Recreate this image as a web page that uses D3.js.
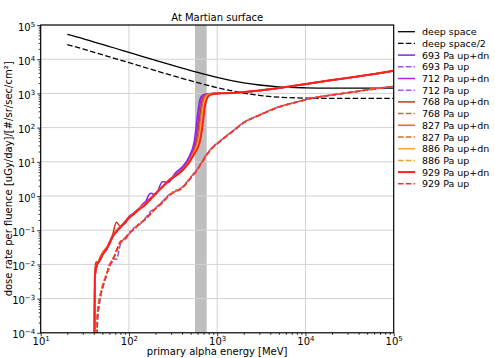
<!DOCTYPE html>
<html>
<head>
<meta charset="utf-8">
<script src="https://cdn.jsdelivr.net/npm/d3@7"></script>
<style>
  body { margin: 0; background: #fff; }
  text { font-family: "DejaVu Sans", sans-serif; }
</style>
</head>
<body>
<div id="chart"></div>
<script>
// data
let energy = [40.5, 41, 42, 43, 44, 46, 48, 51, 55, 60, 65, 72, 80, 90, 100, 115, 130, 150, 175, 200,
  240, 280, 330, 400, 480, 550, 600, 640, 680, 720, 760, 800, 850, 900, 1000, 1200, 1500, 2000, 3000, 5000,
  8000, 13000, 20000, 35000, 60000, 100000];

let dsEnergy = [20, 30, 50, 70, 100, 150, 200, 300, 400, 600, 1000, 1500, 2000, 3000, 5000, 10000, 20000, 50000, 100000];
let deepSpace = [53000, 40000, 27000, 20900, 15800, 11560, 9250, 6800, 5500, 4120, 2950, 2340, 2040, 1760, 1550, 1460, 1435, 1430, 1430];
let deepSpaceHalf = [26500, 20000, 13500, 10450, 7900, 5780, 4625, 3400, 2750, 2060, 1475, 1170, 1020, 880, 775, 730, 718, 715, 715];

let updn693 = [1e-5, 3.5e-3, 6e-3, 8e-3, 1.0e-2, 1.3e-2, 1.4e-2, 2.2e-2, 2.5e-2, 4.2e-2, 6e-2, 9.5e-2, 0.13, 0.16, 0.25, 0.32, 0.43, 0.58, 1.2, 1.1,
  2.6, 2.5, 4.5, 7.0, 14, 40, 250, 700, 880, 940, 965, 980, 990, 995, 1000, 1015, 1040, 1095, 1200, 1420,
  1700, 2050, 2420, 2950, 3650, 4500];
let updn712 = [1e-5, 3.8e-3, 6.5e-3, 9e-3, 1.1e-2, 1.2e-2, 1.6e-2, 2.1e-2, 2.8e-2, 3.8e-2, 6.2e-2, 9e-2, 0.125, 0.175, 0.24, 0.33, 0.44, 0.65, 0.85, 1.2,
  1.9, 2.9, 4.0, 6.2, 12, 30, 120, 500, 800, 910, 950, 970, 985, 992, 1000, 1012, 1035, 1092, 1205, 1425,
  1710, 2060, 2440, 2980, 3680, 4550];
let updn768 = [1e-5, 4.6e-3, 1.1e-2, 1.2e-2, 1.0e-2, 1.4e-2, 1.8e-2, 2.3e-2, 2.6e-2, 4.5e-2, 7e-2, 0.17, 0.13, 0.16, 0.22, 0.31, 0.42, 0.56, 0.82, 1.15,
  1.8, 2.7, 3.8, 5.8, 11, 24, 60, 250, 650, 860, 930, 960, 980, 990, 1000, 1010, 1032, 1090, 1210, 1430,
  1720, 2070, 2450, 2990, 3700, 4580];
let updn827 = [1e-5, 4.2e-3, 8e-3, 1.0e-2, 1.2e-2, 1.3e-2, 1.7e-2, 2.4e-2, 3.0e-2, 4.0e-2, 6.8e-2, 0.10, 0.12, 0.18, 0.23, 0.30, 0.41, 0.57, 0.78, 1.2,
  1.85, 2.8, 3.9, 5.6, 10.5, 21, 40, 120, 450, 780, 900, 950, 975, 988, 1000, 1010, 1030, 1090, 1210, 1430,
  1720, 2080, 2460, 3000, 3700, 4600];
let updn886 = [1e-5, 3e-3, 6e-3, 9.5e-3, 1.1e-2, 1.25e-2, 1.5e-2, 2.1e-2, 2.7e-2, 4.2e-2, 6.3e-2, 9.2e-2, 0.125, 0.17, 0.235, 0.32, 0.41, 0.55, 0.8, 1.15,
  1.85, 2.7, 3.75, 5.5, 10, 19, 32, 70, 250, 600, 820, 920, 960, 985, 998, 1010, 1030, 1090, 1210, 1430,
  1720, 2080, 2450, 3000, 3700, 4600];
let updn929 = [1e-5, 4e-3, 7e-3, 9e-3, 1.1e-2, 1.2e-2, 1.5e-2, 2.0e-2, 2.7e-2, 4.0e-2, 6.5e-2, 9e-2, 0.12, 0.17, 0.23, 0.31, 0.40, 0.53, 0.8, 1.15,
  1.85, 2.7, 3.7, 5.5, 9.5, 17, 25, 42, 110, 380, 680, 840, 920, 965, 995, 1010, 1030, 1090, 1210, 1430,
  1720, 2080, 2450, 3000, 3700, 4600];

let up693 = [null, null, null, 1e-5, 2e-4, 6e-4, 1.5e-3, 2.2e-3, 5e-3, 8e-3, 1.5e-2, 1.4e-2, 3.8e-2, 6e-2, 7.5e-2, 0.12, 0.14, 0.21, 0.35, 0.45,
  0.7, 1.05, 1.35, 1.8, 3.1, 4.8, 6.3, 8.3, 10.5, 13.5, 16.5, 19.5, 24, 28, 35, 51, 80, 142, 235, 405,
  565, 765, 905, 1110, 1360, 1620];
let up712 = [null, null, null, 1e-5, 2.5e-4, 7e-4, 1.2e-3, 2.8e-3, 4.2e-3, 1.0e-2, 1.2e-2, 2.6e-2, 4.2e-2, 5.8e-2, 8.2e-2, 0.105, 0.155, 0.195, 0.31, 0.42,
  0.68, 0.98, 1.42, 1.75, 3.0, 4.6, 6.1, 8.1, 10.2, 13.2, 16.2, 19.2, 23.5, 27.5, 34.5, 50, 79, 141, 232, 402,
  562, 762, 902, 1105, 1355, 1610];
let up768 = [null, null, null, 1e-5, 3.5e-4, 9e-4, 1.4e-3, 2.4e-3, 4.8e-3, 8.5e-3, 1.4e-2, 2.2e-2, 4.8e-2, 5.2e-2, 7.8e-2, 0.115, 0.145, 0.205, 0.29, 0.44,
  0.63, 1.02, 1.38, 1.72, 2.9, 4.4, 5.9, 7.9, 9.8, 12.8, 15.8, 18.8, 22.8, 26.8, 33.5, 49, 77, 139, 230, 398,
  558, 758, 898, 1095, 1345, 1595];
let up827 = [null, null, null, 1e-5, 4e-4, 7.5e-4, 1.6e-3, 2.6e-3, 4.4e-3, 9.5e-3, 1.25e-2, 2.5e-2, 4.4e-2, 5.6e-2, 8.4e-2, 0.108, 0.152, 0.198, 0.305, 0.43,
  0.66, 0.99, 1.41, 1.7, 3.05, 4.55, 6.05, 8.05, 10.1, 13.1, 16.1, 19.1, 23.2, 27.2, 34.2, 50.5, 78.5, 140, 231, 401,
  561, 761, 901, 1102, 1352, 1605];
let up886 = [null, null, null, 1e-5, 4.5e-4, 1.0e-3, 1.5e-3, 3e-3, 4.6e-3, 9e-3, 1.35e-2, 2.3e-2, 4.6e-2, 5.4e-2, 8e-2, 0.112, 0.148, 0.202, 0.295, 0.435,
  0.64, 1.01, 1.39, 1.68, 2.95, 4.5, 6.0, 8.0, 10.0, 13.0, 16.0, 19.0, 23.0, 27.0, 34.0, 50, 78, 140, 230, 400,
  560, 760, 900, 1100, 1350, 1600];
let up929 = [null, null, null, 1e-5, 3e-4, 8e-4, 1.3e-3, 2.5e-3, 4.5e-3, 9e-3, 1.3e-2, 2.4e-2, 4.5e-2, 5.5e-2, 8e-2, 0.11, 0.15, 0.20, 0.30, 0.43,
  0.65, 1.0, 1.3, 1.7, 3.0, 4.5, 6, 8, 10, 13, 16, 19, 23, 27, 34, 50, 78, 140, 230, 400,
  560, 760, 900, 1100, 1350, 1600];

// shaded energy band
let bandRange = [560, 760];

let xTicks = [10, 100, 1000, 10000, 100000];
let yTicks = [1e-4, 1e-3, 1e-2, 1e-1, 1, 10, 100, 1000, 10000, 100000];

// series list: label, values, energies, colour, dashed
let series = [
  { name: "deep space", x: dsEnergy, y: deepSpace, color: "#000", dash: false, w: 1.3 },
  { name: "deep space/2", x: dsEnergy, y: deepSpaceHalf, color: "#000", dash: true, w: 1.3 },
  { name: "693 Pa up+dn", x: energy, y: updn693, color: "#8022f0", dash: false, w: 1.5 },
  { name: "693 Pa up", x: energy, y: up693, color: "#9b50e8", dash: true, w: 1.5 },
  { name: "712 Pa up+dn", x: energy, y: updn712, color: "#a428f0", dash: false, w: 1.5 },
  { name: "712 Pa up", x: energy, y: up712, color: "#b24cf2", dash: true, w: 1.5 },
  { name: "768 Pa up+dn", x: energy, y: updn768, color: "#c43a1c", dash: false, w: 1.5 },
  { name: "768 Pa up", x: energy, y: up768, color: "#d0644c", dash: true, w: 1.5 },
  { name: "827 Pa up+dn", x: energy, y: updn827, color: "#e06a30", dash: false, w: 1.5 },
  { name: "827 Pa up", x: energy, y: up827, color: "#dc6426", dash: true, w: 1.5 },
  { name: "886 Pa up+dn", x: energy, y: updn886, color: "#f0a832", dash: false, w: 1.5 },
  { name: "886 Pa up", x: energy, y: up886, color: "#f0a024", dash: true, w: 1.5 },
  { name: "929 Pa up+dn", x: energy, y: updn929, color: "#ff1e1e", dash: false, w: 2 },
  { name: "929 Pa up", x: energy, y: up929, color: "#ff2a2a", dash: true, w: 1.5 }
];

let svgWidth = 495;
let svgHeight = 358;
let margin = { top: 25, left: 40.7, bottom: 25.2, right: 101.3 };
let width = svgWidth - margin.left - margin.right;
let height = svgHeight - margin.top - margin.bottom;

let svg = d3.select("#chart")
  .append("svg")
  .attr("width", svgWidth)
  .attr("height", svgHeight);

let chartGroup = svg.append("g")
  .attr("transform", `translate(${margin.left}, ${margin.top})`);

let xScale = d3.scaleLog().domain([10, 1e5]).range([0, width]);
let yScale = d3.scaleLog().domain([1e-4, 1e5]).range([height, 0]);

svg.append("defs").append("clipPath").attr("id", "plotclip")
  .append("rect").attr("width", width).attr("height", height);

// gray band
chartGroup.append("rect")
  .attr("x", xScale(bandRange[0]))
  .attr("width", xScale(bandRange[1]) - xScale(bandRange[0]))
  .attr("y", 0)
  .attr("height", height)
  .attr("fill", "#bfbfbf");

// grid
chartGroup.append("g").selectAll("line")
  .data(xTicks.slice(1, -1))
  .enter().append("line")
  .attr("x1", d => xScale(d)).attr("x2", d => xScale(d))
  .attr("y1", 0).attr("y2", height)
  .attr("stroke", "#d3d3d3").attr("stroke-width", 1);

chartGroup.append("g").selectAll("line")
  .data(yTicks.slice(1, -1))
  .enter().append("line")
  .attr("y1", d => yScale(d)).attr("y2", d => yScale(d))
  .attr("x1", 0).attr("x2", width)
  .attr("stroke", "#d3d3d3").attr("stroke-width", 1);

// lines
let lineGroup = chartGroup.append("g").attr("clip-path", "url(#plotclip)");
series.forEach(s => {
  let pts = s.x.map((e, i) => [e, s.y[i]]);
  let line = d3.line()
    .defined(d => d[1] != null)
    .x(d => xScale(d[0]))
    .y(d => yScale(d[1]))
    .curve(d3.curveMonotoneX);
  lineGroup.append("path")
    .datum(pts)
    .attr("d", line)
    .attr("fill", "none")
    .attr("stroke", s.color)
    .attr("stroke-width", s.w)
    .attr("stroke-dasharray", s.dash ? "5.5,2.4" : null)
    .attr("stroke-linejoin", "round");
});

// minor ticks for log axes
function minors(lo, hi) {
  let out = [];
  for (let p = lo; p < hi; p++) {
    for (let k = 2; k <= 9; k++) out.push(k * Math.pow(10, p));
  }
  return out;
}

function supLabels(sel) {
  sel.selectAll(".tick text").each(function (d) {
    let t = d3.select(this);
    let ex = Math.round(Math.log10(d));
    t.text(null);
    t.append("tspan").text("10");
    t.append("tspan").attr("dy", "-0.55em").attr("font-size", "7px")
      .text(ex < 0 ? "\u2212" + (-ex) : ex);
  });
}

let xAxisG = chartGroup.append("g")
  .attr("transform", `translate(0, ${height})`)
  .call(d3.axisBottom(xScale).tickValues(xTicks).tickSize(3.5).tickPadding(2));
xAxisG.call(supLabels);
chartGroup.append("g")
  .attr("transform", `translate(0, ${height})`)
  .call(d3.axisBottom(xScale).tickValues(minors(1, 5)).tickSize(2).tickFormat(""));

let yAxisG = chartGroup.append("g")
  .call(d3.axisLeft(yScale).tickValues(yTicks).tickSize(3.5).tickPadding(2));
yAxisG.call(supLabels);
chartGroup.append("g")
  .call(d3.axisLeft(yScale).tickValues(minors(-4, 5)).tickSize(2).tickFormat(""));

chartGroup.selectAll(".domain").remove();
chartGroup.selectAll(".tick line").attr("stroke", "#000").attr("stroke-width", 0.8);
chartGroup.selectAll(".tick text").attr("font-size", "10px").attr("fill", "#000")
  .style("font-family", "'DejaVu Sans', sans-serif");
yAxisG.selectAll(".tick text").attr("dy", "0.5em");
xAxisG.selectAll(".tick text").attr("dy", "0.68em");

// frame
chartGroup.append("rect")
  .attr("width", width).attr("height", height)
  .attr("fill", "none").attr("stroke", "#000").attr("stroke-width", 1.2);

// title and labels
chartGroup.append("text")
  .attr("x", width / 2).attr("y", -4.5)
  .attr("text-anchor", "middle").attr("font-size", "10px")
  .text("At Martian surface");

chartGroup.append("text")
  .attr("x", width / 2).attr("y", height + 22)
  .attr("text-anchor", "middle").attr("font-size", "10px")
  .text("primary alpha energy [MeV]");

svg.append("text")
  .attr("transform", `translate(11.5, ${margin.top + height / 2}) rotate(-90)`)
  .attr("text-anchor", "middle").attr("font-size", "10px")
  .text("dose rate per fluence [uGy/day]/[#/sr/sec/cm\u00b2]");

// legend
let legend = svg.append("g").attr("transform", "translate(398, 31.7)");
series.forEach((s, i) => {
  let row = legend.append("g").attr("transform", `translate(0, ${i * 11.7})`);
  row.append("line")
    .attr("x1", 0).attr("x2", 17).attr("y1", 0).attr("y2", 0)
    .attr("stroke", s.color).attr("stroke-width", s.w)
    .attr("stroke-dasharray", s.dash ? "5.5,2.4" : null);
  row.append("text")
    .attr("x", 24).attr("y", 3.5)
    .attr("font-size", "9.5px")
    .text(s.name);
});
</script>
</body>
</html>
